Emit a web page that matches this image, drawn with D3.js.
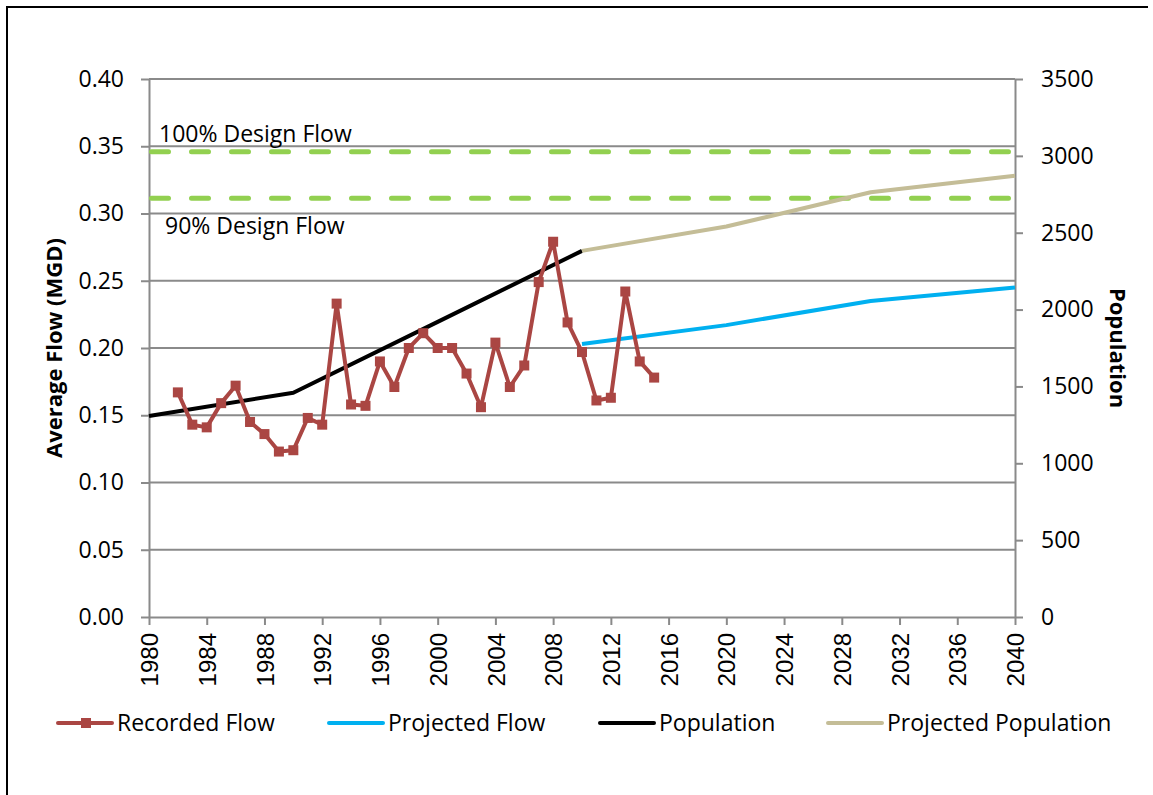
<!DOCTYPE html>
<html>
<head>
<meta charset="utf-8">
<script src="https://cdn.jsdelivr.net/npm/d3@7"></script>
<style>
  html, body { margin: 0; padding: 0; background: #fff; }
  svg { display: block; }
  text { font-family: "Open Sans", "Noto Sans", sans-serif; fill: #000; }
</style>
</head>
<body>
<svg id="chart" width="1153" height="795"></svg>
<script>
// Recorded average flow (MGD), 1982–2015
const recordedYears = [1982, 1983, 1984, 1985, 1986, 1987, 1988, 1989, 1990, 1991, 1992, 1993,
  1994, 1995, 1996, 1997, 1998, 1999, 2000, 2001, 2002, 2003, 2004, 2005, 2006, 2007,
  2008, 2009, 2010, 2011, 2012, 2013, 2014, 2015];
const recordedFlow = [0.167, 0.143, 0.141, 0.159, 0.172, 0.145, 0.136, 0.123, 0.124, 0.148, 0.143, 0.233,
  0.158, 0.157, 0.190, 0.171, 0.200, 0.211, 0.200, 0.200, 0.181, 0.156, 0.204, 0.171, 0.187, 0.249,
  0.279, 0.219, 0.197, 0.161, 0.163, 0.242, 0.190, 0.178];

// Projected average flow (MGD)
const projectedYears = [2010, 2020, 2030, 2040];
const projectedFlow = [0.203, 0.217, 0.235, 0.245];

// Census population and projection
const populationYears = [1980, 1990, 2000, 2010];
const population = [1308, 1459, 1920, 2382];
const projPopulationYears = [2010, 2020, 2030, 2040];
const projPopulation = [2382, 2540, 2763, 2871];

// Plant design capacity (MGD)
const designFlow = 0.346;
const designLevels = [
  { label: "100% Design Flow", value: designFlow },
  { label: "90% Design Flow", value: 0.9 * designFlow }
];

// Axis tick values
const yearTicks = d3.range(1980, 2041, 4);
const flowTicks = d3.range(0, 0.4001, 0.05);
const popTicks = d3.range(0, 3501, 500);

const legendItems = [
  { name: "Recorded Flow", color: "#AA4643", marker: true },
  { name: "Projected Flow", color: "#00B0F0", marker: false },
  { name: "Population", color: "#000000", marker: false },
  { name: "Projected Population", color: "#C4BD97", marker: false }
];

const svg = d3.select("#chart");
const plot = { left: 149, top: 79, right: 1015, bottom: 617 };
const gridColor = "#8a8a8a";

const x = d3.scaleLinear().domain([1980, 2040]).range([plot.left, plot.right]);
const yFlow = d3.scaleLinear().domain([0, 0.4]).range([plot.bottom, plot.top]);
const yPop = d3.scaleLinear().domain([0, 3500]).range([plot.bottom, plot.top]);

// Outer chart frame (top and left edges)
svg.append("path")
  .attr("d", `M1148,7 H7 V800`)
  .attr("fill", "none")
  .attr("stroke", "#000")
  .attr("stroke-width", 2);

// Horizontal gridlines
svg.append("g")
  .selectAll("line")
  .data(flowTicks.filter(d => d > 0.001))
  .join("line")
  .attr("x1", plot.left).attr("x2", plot.right)
  .attr("y1", d => yFlow(d)).attr("y2", d => yFlow(d))
  .attr("stroke", gridColor).attr("stroke-width", 2);

// Left axis
const leftAxis = svg.append("g")
  .attr("transform", `translate(${plot.left},0)`)
  .call(d3.axisLeft(yFlow).tickValues(flowTicks).tickFormat(d3.format(".2f")).tickSizeInner(8).tickSizeOuter(0).tickPadding(17));
leftAxis.select(".domain").attr("stroke", gridColor).attr("stroke-width", 2);
leftAxis.selectAll(".tick line").attr("stroke", gridColor).attr("stroke-width", 2);
leftAxis.selectAll(".tick text").style("font-family", '"Open Sans", sans-serif').style("font-size", "23px").attr("fill", "#000");

// Right axis
const rightAxis = svg.append("g")
  .attr("transform", `translate(${plot.right},0)`)
  .call(d3.axisRight(yPop).tickValues(popTicks).tickFormat(d3.format("d")).tickSizeInner(8).tickSizeOuter(0).tickPadding(18));
rightAxis.select(".domain").attr("stroke", gridColor).attr("stroke-width", 2);
rightAxis.selectAll(".tick line").attr("stroke", gridColor).attr("stroke-width", 2);
rightAxis.selectAll(".tick text").style("font-family", '"Open Sans", sans-serif').style("font-size", "23px").attr("fill", "#000");

// Bottom axis with vertical year labels
const bottomAxis = svg.append("g")
  .attr("transform", `translate(0,${plot.bottom})`)
  .call(d3.axisBottom(x).tickValues(yearTicks).tickFormat(d3.format("d")).tickSizeInner(8).tickSizeOuter(0));
bottomAxis.select(".domain").attr("stroke", gridColor).attr("stroke-width", 2);
bottomAxis.selectAll(".tick line").attr("stroke", gridColor).attr("stroke-width", 2);
bottomAxis.selectAll(".tick text")
  .style("font-family", '"Liberation Sans", Arial, sans-serif').style("font-size", "24px").attr("fill", "#000")
  .attr("transform", "rotate(-90)")
  .attr("x", -16).attr("y", 0).attr("dy", "0.36em")
  .attr("text-anchor", "end");

// Design flow reference lines
const designG = svg.append("g");
designG.selectAll("line")
  .data(designLevels)
  .join("line")
  .attr("x1", x(1980)).attr("x2", x(2040))
  .attr("y1", d => yFlow(d.value)).attr("y2", d => yFlow(d.value))
  .attr("stroke", "#92D050").attr("stroke-width", 5)
  .attr("stroke-dasharray", "17,23").attr("stroke-linecap", "round")
  .attr("stroke-dashoffset", -2.5);
designG.append("text")
  .attr("x", 159).attr("y", yFlow(designLevels[0].value) - 10)
  .style("font-size", "23px")
  .text(designLevels[0].label);
designG.append("text")
  .attr("x", 165).attr("y", yFlow(designLevels[1].value) + 36)
  .style("font-size", "23px")
  .text(designLevels[1].label);

// Series lines
const lineOf = (xs, ys, yScale) => d3.line()
  .x((d, i) => x(xs[i]))
  .y(d => yScale(d))(ys);

svg.append("path")
  .attr("d", lineOf(populationYears, population, yPop))
  .attr("fill", "none").attr("stroke", "#000").attr("stroke-width", 4).attr("stroke-linejoin", "round");

svg.append("path")
  .attr("d", lineOf(projPopulationYears, projPopulation, yPop))
  .attr("fill", "none").attr("stroke", "#C4BD97").attr("stroke-width", 4).attr("stroke-linejoin", "round");

svg.append("path")
  .attr("d", lineOf(projectedYears, projectedFlow, yFlow))
  .attr("fill", "none").attr("stroke", "#00B0F0").attr("stroke-width", 4).attr("stroke-linejoin", "round");

svg.append("path")
  .attr("d", lineOf(recordedYears, recordedFlow, yFlow))
  .attr("fill", "none").attr("stroke", "#AA4643").attr("stroke-width", 4).attr("stroke-linejoin", "round");

svg.append("g")
  .selectAll("rect")
  .data(recordedFlow)
  .join("rect")
  .attr("x", (d, i) => x(recordedYears[i]) - 5)
  .attr("y", d => yFlow(d) - 5)
  .attr("width", 10).attr("height", 10)
  .attr("fill", "#AA4643");

// Axis titles
svg.append("text")
  .attr("transform", `translate(62,${(plot.top + plot.bottom) / 2}) rotate(-90)`)
  .attr("text-anchor", "middle")
  .style("font-size", "22px").style("font-weight", "bold")
  .text("Average Flow (MGD)");

svg.append("text")
  .attr("transform", `translate(1110,${(plot.top + plot.bottom) / 2}) rotate(90)`)
  .attr("text-anchor", "middle")
  .style("font-size", "22px").style("font-weight", "bold")
  .text("Population");

// Legend
const legendX = [58, 329, 600, 828];
const legendY = 723;
const legend = svg.append("g")
  .selectAll("g")
  .data(legendItems)
  .join("g")
  .attr("transform", (d, i) => `translate(${legendX[i]},${legendY})`);
legend.append("line")
  .attr("x1", 0).attr("x2", 54).attr("y1", 0).attr("y2", 0)
  .attr("stroke", d => d.color).attr("stroke-width", 4).attr("stroke-linecap", "round");
legend.filter(d => d.marker).append("rect")
  .attr("x", 23).attr("y", -5).attr("width", 10).attr("height", 10)
  .attr("fill", d => d.color);
legend.append("text")
  .attr("x", 59).attr("y", 0).attr("dy", "0.35em")
  .style("font-size", "23px")
  .text(d => d.name);
</script>
</body>
</html>
